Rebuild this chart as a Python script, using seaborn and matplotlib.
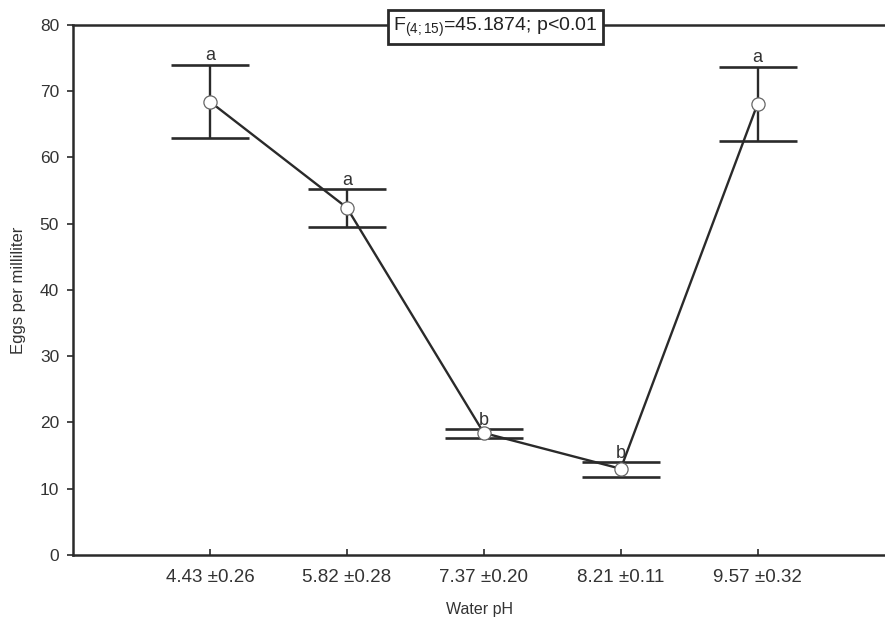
import numpy as np
import pandas as pd
import matplotlib
matplotlib.use("Agg")
import matplotlib.pyplot as plt
import seaborn as sns

# ---- data ----
ph_labels = ["4.43 \u00b10.26", "5.82 \u00b10.28", "7.37 \u00b10.20", "8.21 \u00b10.11", "9.57 \u00b10.32"]
means = [68.4, 52.4, 18.4, 13.0, 68.1]
upper = [74.0, 55.2, 19.0, 14.0, 73.7]
lower = [62.9, 49.5, 17.7, 11.8, 62.5]
groups = ["a", "a", "b", "b", "a"]
stat_text = "F$_{(4;15)}$=45.1874; p<0.01"

sns.set_theme(style="white")
plt.rcParams['font.family'] = ['Liberation Sans', 'DejaVu Sans']
plt.rcParams['mathtext.fontset'] = 'custom'
plt.rcParams['mathtext.rm'] = 'Liberation Sans'
plt.rcParams['mathtext.it'] = 'Liberation Sans'
plt.rcParams['mathtext.bf'] = 'Liberation Sans'

dark = "#2a2a2a"
df = pd.DataFrame({"pos": np.arange(len(means)), "mean": means,
                   "upper": upper, "lower": lower})

fig = plt.figure(figsize=(8.85, 6.2), dpi=100)
ax = fig.add_axes([0.0825, 0.105, 0.9175, 0.855])

yerr = [df["mean"] - df["lower"], df["upper"] - df["mean"]]
ax.errorbar(df["pos"], df["mean"], yerr=yerr, fmt="none", ecolor=dark,
            elinewidth=1.7, capsize=28, capthick=1.9, zorder=2)
sns.lineplot(data=df, x="pos", y="mean", ax=ax, color=dark, linewidth=1.7,
             marker="o", markersize=9.5, markerfacecolor="white",
             markeredgecolor="#666666", markeredgewidth=0.9, zorder=3)

for x, u, g in zip(df["pos"], df["upper"], groups):
    ax.text(x, u + 0.05, g, ha="center", va="bottom", fontsize=13, color="#333333")

ax.set_xlim(-1, 4.93)
ax.set_ylim(0, 80)
ax.set_yticks(np.arange(0, 81, 10))
ax.set_xticks(df["pos"])
ax.set_xticklabels(ph_labels)
ax.set_xlabel("Water pH", fontsize=11.5, color="#333333", labelpad=12)
ax.set_ylabel("Eggs per milliliter", fontsize=12, color="#333333", labelpad=10)

ax.tick_params(axis="y", direction="out", length=4, width=1.2, color=dark,
               labelsize=12.5, labelcolor="#333333", left=True, pad=6)
ax.tick_params(axis="x", direction="in", length=4, width=1.2, color=dark,
               labelsize=13.5, labelcolor="#333333", bottom=True, pad=10)

for side in ["left", "bottom", "top"]:
    ax.spines[side].set_visible(True)
    ax.spines[side].set_color(dark)
    ax.spines[side].set_linewidth(1.8)
ax.spines["right"].set_visible(False)

ax.text(0.52, 0.995, stat_text, transform=ax.transAxes, ha="center", va="center",
        fontsize=14, color="#222222", zorder=5,
        bbox=dict(boxstyle="square,pad=0.28", facecolor="white", edgecolor=dark, linewidth=2.0))

fig.savefig("out.png", dpi=100)
